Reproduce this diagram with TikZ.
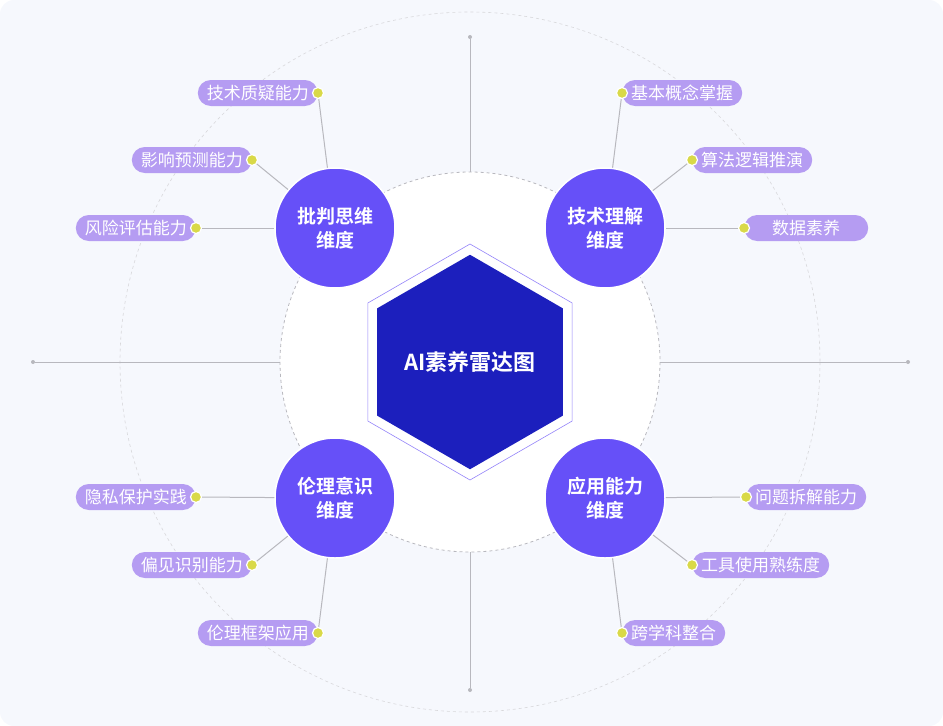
\documentclass[tikz,border=0pt]{standalone}
\usepackage{fontspec}
\setmainfont{Noto Sans CJK SC}
\newfontfamily\cjkb{Noto Sans CJK SC Bold}
\usetikzlibrary{shapes.geometric}
\definecolor{bg}{HTML}{F6F8FD}
\definecolor{dimc}{HTML}{6650F8}
\definecolor{hexc}{HTML}{1C1FBD}
\definecolor{pill}{HTML}{B59CF2}
\definecolor{dotc}{HTML}{D9D948}
\definecolor{axisc}{HTML}{B8B8BE}
\tikzset{
 x=1pt,y=-1pt,
 dimnode/.style={circle,fill=dimc,draw=white,line width=1.5pt,minimum size=120pt,text=white,font=\cjkb\fontsize{19}{24}\selectfont,align=center,inner sep=0pt},
 pillnode/.style={rounded corners=13pt,fill=pill,text=white,minimum height=26pt,inner xsep=9pt,font=\fontsize{17}{19}\selectfont},
 dotnode/.style={circle,fill=dotc,draw=white,line width=1.2pt,minimum size=11pt,inner sep=0pt},
 link/.style={draw=axisc,line width=1pt},
 axisl/.style={draw=axisc,line width=0.9pt},
 endp/.style={circle,fill=axisc,minimum size=4pt,inner sep=0pt},
 hexshape/.style={regular polygon,regular polygon sides=6,shape border rotate=30,inner sep=0pt},
}
\begin{document}
\begin{tikzpicture}
\useasboundingbox (0,0) rectangle (943,726);
\fill[bg,rounded corners=14pt] (0,0) rectangle (943,726);
\coordinate (o) at (470,362);
\draw[axisc!55,dashed,line width=0.6pt] (o) circle[radius=350];
\fill[white] (o) circle[radius=190];
\draw[axisc,dashed,line width=0.8pt] (o) circle[radius=190];
% axes
\node[endp] (at) at (470,37) {}; \coordinate (ati) at (470,172);
\node[endp] (ab) at (470,690) {}; \coordinate (abi) at (470,552);
\node[endp] (al) at (33,362) {}; \coordinate (ali) at (280,362);
\node[endp] (ar) at (908,362) {}; \coordinate (ari) at (660,362);
\draw[axisl] (at)--(ati); \draw[axisl] (ab)--(abi);
\draw[axisl] (al)--(ali); \draw[axisl] (ar)--(ari);
% hexagon
\node[hexshape,draw=dimc!70,line width=0.6pt,minimum size=236pt] (hexo) at (o) {};
\node[hexshape,fill=hexc,minimum size=212pt,text=white,font=\cjkb\fontsize{22}{26}\selectfont] (hex) at (o) {AI素养雷达图};
% dimensions
\node[dimnode] (d1) at (335,228) {批判思维\\维度};
\node[dimnode] (d2) at (605,228) {技术理解\\维度};
\node[dimnode] (d3) at (335,498) {伦理意识\\维度};
\node[dimnode] (d4) at (605,498) {应用能力\\维度};
% TL leaves
\node[pillnode,anchor=east] (p11) at (318,93) {技术质疑能力};
\node[pillnode,anchor=east] (p12) at (252,160) {影响预测能力};
\node[pillnode,anchor=east] (p13) at (196,228) {风险评估能力};
% TR
\node[pillnode,anchor=west] (p21) at (622,93) {基本概念掌握};
\node[pillnode,anchor=west] (p22) at (692,160) {算法逻辑推演};
\node[pillnode,anchor=west,inner xsep=28pt] (p23) at (744,228) {数据素养};
% BL
\node[pillnode,anchor=east] (p31) at (196,497) {隐私保护实践};
\node[pillnode,anchor=east] (p32) at (252,565) {偏见识别能力};
\node[pillnode,anchor=east] (p33) at (318,633) {伦理框架应用};
% BR
\node[pillnode,anchor=west] (p41) at (746,497) {问题拆解能力};
\node[pillnode,anchor=west] (p42) at (692,565) {工具使用熟练度};
\node[pillnode,anchor=west] (p43) at (622,633) {跨学科整合};
% dots
\foreach \i/\x/\y in {11/318/93,12/252/160,13/196/228,21/622/93,22/692/160,23/744/228,31/196/497,32/252/565,33/318/633,41/746/497,42/692/565,43/622/633}
  \node[dotnode] (q\i) at (\x,\y) {};
\foreach \i/\d in {11/d1,12/d1,13/d1,21/d2,22/d2,23/d2,31/d3,32/d3,33/d3,41/d4,42/d4,43/d4}
  \draw[link] (q\i) -- (\d);
\end{tikzpicture}
\end{document}
